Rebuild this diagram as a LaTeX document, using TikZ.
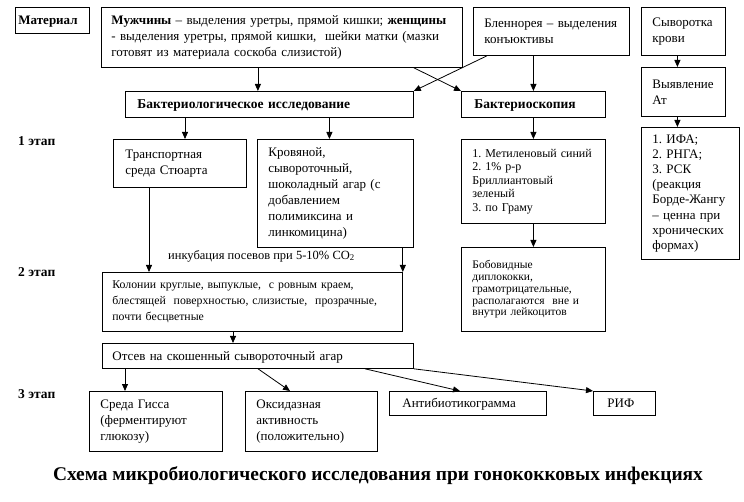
\documentclass[tikz,border=0pt]{standalone}
\usepackage{fontspec}
\setmainfont{Liberation Serif}
\usetikzlibrary{arrows.meta, positioning, calc}
\frenchspacing
\begin{document}
\begin{tikzpicture}[x=1pt, y=-1pt,
    box/.style={draw, line width=0.8pt, anchor=north west, inner xsep=0pt, inner ysep=0pt,
        align=left, pad=10pt, font=\fontsize{13}{16}\selectfont},
    oneline/.style={text height=10pt, text depth=1pt},
    pad/.style={execute at begin node={\leftskip=#1}},
    arr/.style={-{Triangle[length=7pt,width=6pt]}, line width=0.8pt},
    stage/.style={anchor=west, inner sep=0pt, font=\fontsize{13.5}{16}\selectfont\bfseries}]

        \useasboundingbox (0,0) rectangle (744,502);

        % material row
        \node [box, oneline, text width=74pt, minimum height=26pt, pad=3pt,
            font=\fontsize{13}{16}\selectfont\bfseries] (mat) at (15,7) {Материал};
        \node [box, text width=361pt, minimum height=60pt] (muzh) at (101,7)
            {\textbf{Мужчины} – выделения уретры, прямой кишки; \textbf{женщины}\\
             - выделения уретры, прямой кишки, \ шейки матки (мазки\\
             готовят из материала соскоба слизистой)};
        \node [box, text width=156pt, minimum height=48pt, pad=11pt] (blen) at (473,7)
            {Бленнорея – выделения\\ конъюктивы};
        \node [box, text width=84pt, minimum height=48pt, pad=11pt] (syv) at (641,7)
            {Сыворотка\\ крови};
        \node [box, text width=84pt, minimum height=49pt, pad=11pt] (vyav) at (641,67)
            {Выявление\\ Ат};
        \node [box, text width=98pt, minimum height=132pt, pad=11pt,
            font=\fontsize{13}{15.2}\selectfont] (ifa) at (641,127)
            {1. ИФА;\\ 2. РНГА;\\ 3. РСК\\ (реакция\\ Борде-Жангу\\ – ценна при\\ хронических\\ формах)};

        % methods
        \node [box, oneline, text width=288pt, minimum height=26pt, pad=12pt,
            font=\fontsize{13.5}{16}\selectfont\bfseries] (bakt) at (125,91)
            {Бактериологическое исследование};
        \node [box, oneline, text width=144pt, minimum height=26pt, pad=13pt,
            font=\fontsize{13.5}{16}\selectfont\bfseries] (bsk) at (461,91)
            {Бактериоскопия};

        % 1 stage
        \node [box, text width=133pt, minimum height=48pt, pad=12pt] (trans) at (113,139)
            {Транспортная\\ среда Стюарта};
        \node [box, text width=156pt, minimum height=108pt, pad=11pt] (krov) at (257,139)
            {Кровяной,\\ сывороточный,\\ шоколадный агар (с\\ добавлением\\ полимиксина и\\ линкомицина)};
        \node [box, text width=144pt, minimum height=84pt, pad=11pt,
            font=\fontsize{12}{13.5}\selectfont] (metil) at (461,139)
            {1. Метиленовый синий\\ 2. 1\% р-р\\ Бриллиантовый\\ зеленый\\ 3. по Граму};
        \node [box, text width=144pt, minimum height=84pt, pad=11pt,
            font=\fontsize{11.5}{11.8}\selectfont] (bobov) at (461,247)
            {Бобовидные\\ диплококки,\\ грамотрицательные,\\ располагаются \ вне и\\ внутри лейкоцитов};

        % 2 stage
        \node [box, text width=300pt, minimum height=59pt,
            font=\fontsize{11.8}{16}\selectfont] (kolon) at (102,272)
            {Колонии круглые, выпуклые, \ с ровным краем,\\
             блестящей \ поверхностью, слизистые, \ прозрачные,\\
             почти бесцветные};
        \node [box, oneline, text width=311pt, minimum height=25pt] (otsev) at (102,343)
            {Отсев на скошенный сывороточный агар};

        % 3 stage
        \node [box, text width=133pt, minimum height=60pt, pad=11pt] (giss) at (89,391)
            {Среда Гисса\\ (ферментируют\\ глюкозу)};
        \node [box, text width=132pt, minimum height=60pt, pad=11pt] (oksid) at (245,391)
            {Оксидазная\\ активность\\ (положительно)};
        \node [box, oneline, text width=157pt, minimum height=24pt, pad=13pt] (antib) at (389,391)
            {Антибиотикограмма};
        \node [box, oneline, text width=62pt, minimum height=24pt, pad=14pt] (rif) at (593,391) {РИФ};

        % stage labels
        \foreach \s/\yy in {1/141, 2/272, 3/394}
        \node [stage] (stage-\s) at (18,\yy) {\s{} этап};

        \node [anchor=west, inner sep=0pt, font=\fontsize{12.5}{16}\selectfont] (inkub) at (168,256)
            {инкубация посевов при 5-10\% CO\textsubscript{2}};

        \node [inner sep=0pt, font=\fontsize{19.4}{22}\selectfont\bfseries] (title) at (378,476)
            {Схема микробиологического исследования при гонококковых инфекциях};

        % connectors
        \draw [arr] ([xshift=-24pt]muzh.south) -- ([xshift=-24pt]muzh.south |- bakt.north);
        \draw [arr] ([xshift=-49pt]muzh.south east) -- (bsk.north west);
        \draw [arr] ([xshift=14pt]blen.south west) -- (bakt.north east);
        \draw [arr] (bsk.north |- blen.south) -- (bsk.north);
        \draw [arr] ([xshift=-6pt]syv.south) -- ([xshift=-6pt]vyav.north);
        \draw [arr] ([xshift=-6pt]vyav.south) -- ([xshift=-6pt]vyav.south |- ifa.north);

        \draw [arr] ([xshift=60pt]bakt.south west) -- ([xshift=60pt]bakt.south west |- trans.north);
        \draw [arr] ([xshift=-6pt]krov.north |- bakt.south) -- ([xshift=-6pt]krov.north);
        \draw [arr] (bsk.south) -- (metil.north);
        \draw [arr] (metil.south) -- (bobov.north);

        \draw [arr] ([xshift=36pt]trans.south west) -- ([xshift=36pt]trans.south west |- kolon.north);
        \draw [arr] (kolon.north east |- krov.south) -- (kolon.north east);
        \draw [arr] ([xshift=131pt]kolon.south west) -- ([xshift=131pt]kolon.south west |- otsev.north);

        \draw [arr] ([xshift=23pt]otsev.south west) -- ([xshift=23pt]otsev.south west |- giss.north);
        \draw [arr] ([xshift=156pt]otsev.south west) -- ([xshift=45pt]oksid.north west);
        \draw [arr] ([xshift=263pt]otsev.south west) -- ([xshift=71pt]antib.north west);
        \draw [arr] (otsev.south east) -- (rif.north west);

\end{tikzpicture}
\end{document}
